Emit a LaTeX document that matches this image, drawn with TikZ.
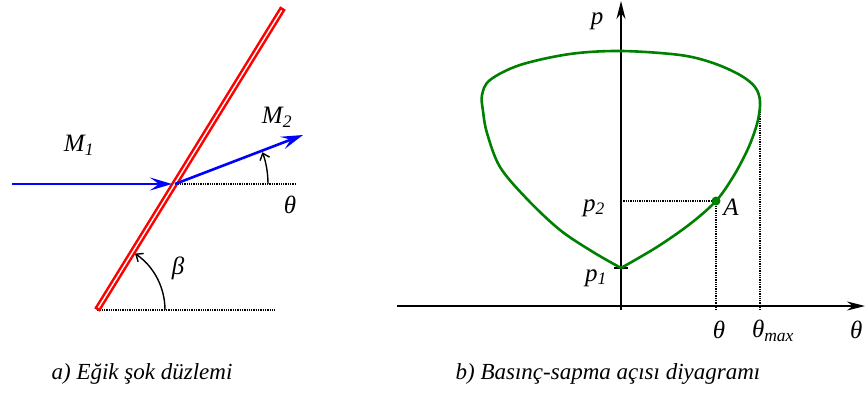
\documentclass[tikz,border=0pt]{standalone}
\usepackage{fontspec}
\setmainfont{Liberation Serif}
\usepackage{tikz}
\usetikzlibrary{arrows.meta, positioning, calc}

\tikzset{
  lbl/.style={font=\fontsize{25}{28}\selectfont\itshape, inner sep=0pt},
  caption/.style={font=\fontsize{23}{26}\selectfont\itshape, inner sep=0pt},
  flow/.style={blue, line width=2.6pt, -{Stealth[length=22pt, width=13pt, inset=9pt]}},
  guide/.style={black, line width=1.3pt, densely dotted},
  angarrow/.style={black, line width=1.4pt, -{Straight Barb[length=6pt, width=10pt]}},
  axis/.style={black, line width=2pt, -{Stealth[length=18pt, width=9pt]}},
  curve/.style={green!50!black, line width=2.6pt, line join=round}
}

\begin{document}
\begin{tikzpicture}[x=1pt, y=-1pt]
        \useasboundingbox (0,0) rectangle (865,396);

        % --- a) SHOCK PLANE ---
        \coordinate (S0) at (97,310);    % lower end of shock
        \coordinate (S1) at (283,8);     % upper end of shock
        \coordinate (O) at (175,184);    % flow meets shock
        \coordinate (In) at (12,184);
        \coordinate (Out) at (303,135);
        \coordinate (ThetaRef) at (296,184);
        \coordinate (BetaRef) at (276,310);

        % reference lines
        \draw[guide] (O) -- (ThetaRef);
        \draw[guide] (S0) -- (BetaRef);

        % shock plane (hollow red bar)
        \draw[red, line width=6.5pt] (S0) -- (S1);
        \draw[white, line width=1.4pt, shorten <=2.6pt, shorten >=2.6pt] (S0) -- (S1);

        % flow vectors
        \draw[flow] (In) -- ($(O)+(-3,0)$);
        \draw[flow] (O) -- (Out);

        % angles
        \draw[angarrow] (O) ++(0:93) arc[start angle=0, end angle=-20, radius=93];
        \draw[angarrow] (S0) ++(0:68) arc[start angle=0, end angle=-56, radius=68];

        \node[lbl] (M1) at (79,145) {M\textsubscript{1}};
        \node[lbl] (M2) at (277,117) {M\textsubscript{2}};
        \node[lbl] (theta1) at (290,205) {θ};
        \node[lbl] (beta) at (178,268) {β};

        \node[caption] (capA) at (142,374) {a) Eğik şok düzlemi};

        % --- b) PRESSURE - DEFLECTION DIAGRAM ---
        \coordinate (Q) at (621,306);     % origin
        \coordinate (P1) at (621,268);    % cusp of the curve
        \coordinate (A) at (716,201);
        \coordinate (R) at (760,100);     % theta max
        \coordinate (Xs) at (397,306);
        \coordinate (Xe) at (865,306);
        \coordinate (Ys) at (621,310);
        \coordinate (Ye) at (621,1);

        % guides
        \draw[guide] (Q |- A) -- (A);
        \draw[guide] (A) -- ($(A |- Q)+(0,4)$);
        \draw[guide] (R) -- ($(R |- Q)+(0,4)$);

        % axes
        \draw[axis] (Xs) -- (Xe);
        \draw[axis] (Ys) -- (Ye);
        \draw[black, line width=1.8pt] ($(P1)+(-7,0)$) -- ($(P1)+(7,0)$);

        % shock polar
        \draw[curve] plot[smooth, tension=0.55] coordinates {
            (621,268) (657,247) (690,224) (716,201) (733,177) (745,155)
            (752,139) (758,120) (760,101) (755,87) (740,75) (713,63)
            (680,55) (621,51) (570,54) (520,65) (490,80) (482,95)
            (483,111) (487,133) (500,167) (527,199) (560,230) (593,252)
            (621,268)};
        \fill[green!50!black] (A) circle (4.5pt);

        \node[lbl] (p) at (597,21) {p};
        \node[lbl] (p2) at (594,208) {p\textsubscript{2}};
        \node[lbl] (p1) at (596,278) {p\textsubscript{1}};
        \node[lbl] (Alab) at (731,207) {A};
        \node[lbl] (theta2) at (719,330) {θ};
        \node[lbl] (thetamax) at (773,331) {θ\textsubscript{max}};
        \node[lbl, anchor=west] (theta3) at (850,330) {θ};

        \node[caption] (capB) at (608,374) {b) Basınç-sapma açısı diyagramı};

    \end{tikzpicture}
\end{document}
